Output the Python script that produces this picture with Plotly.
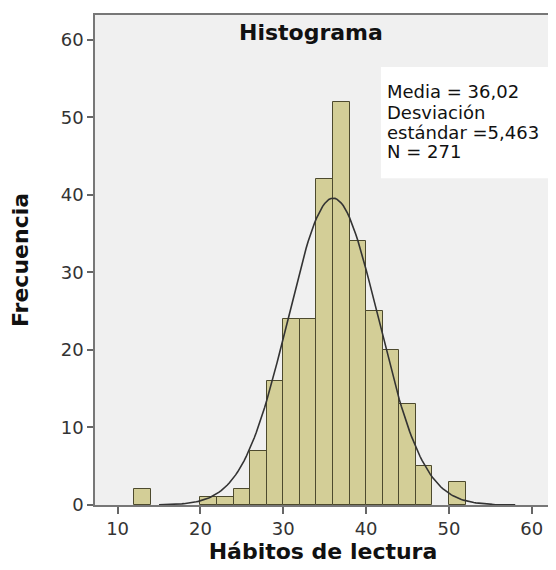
import math
import plotly.graph_objects as go

# Histogram data (bin width 2)
bin_starts = [12, 20, 22, 24, 26, 28, 30, 32, 34, 36, 38, 40, 42, 44, 46, 50]
counts = [2, 1, 1, 2, 7, 16, 24, 24, 42, 52, 34, 25, 20, 13, 5, 3]
bin_width = 2

# Summary statistics shown in the chart
mean = 36.02
sd = 5.463
n = 271

x_ticks = [10, 20, 30, 40, 50, 60]
y_ticks = [0, 10, 20, 30, 40, 50, 60]

# Fitted normal curve (scaled to counts)
curve_x = [15 + i * 0.25 for i in range(int((58 - 15) / 0.25) + 1)]
scale = n * bin_width / (sd * math.sqrt(2 * math.pi))
curve_y = [scale * math.exp(-0.5 * ((v - mean) / sd) ** 2) for v in curve_x]

centers = [b + bin_width / 2 for b in bin_starts]

FONT = "DejaVu Sans"

fig = go.Figure()
fig.add_trace(go.Bar(
    x=centers, y=counts, width=bin_width,
    marker=dict(color="#d3ce97", line=dict(color="#4d4a2e", width=1)),
    hoverinfo="x+y", showlegend=False,
))
fig.add_trace(go.Scatter(
    x=curve_x, y=curve_y, mode="lines",
    line=dict(color="#333333", width=1.6), showlegend=False,
))

# page body has an 8px margin, so the figure is sized to fit the window
fig.update_layout(
    width=548, height=562,
    margin=dict(l=87, r=3, t=7, b=65),
    paper_bgcolor="white", plot_bgcolor="#f0f0f0",
    font=dict(family=FONT, color="#222222"),
    bargap=0,
)
fig.update_xaxes(
    range=[7.27, 62.32], tickvals=x_ticks, ticktext=[str(v) for v in x_ticks],
    showgrid=False, zeroline=False,
    showline=True, linecolor="#777777", linewidth=1.5, mirror=True,
    ticks="outside", ticklen=7, tickwidth=1.5, tickcolor="#666666",
    tickfont=dict(size=18, family=FONT, color="#333333"),
    title=dict(text="<b>Hábitos de lectura</b>", font=dict(size=22, family=FONT, color="#111111"), standoff=3),
)
fig.update_yaxes(
    range=[0, 63.2], tickvals=y_ticks, ticktext=[str(v) for v in y_ticks],
    showgrid=False, zeroline=False,
    showline=True, linecolor="#777777", linewidth=1.5, mirror=True,
    ticks="outside", ticklen=6, tickwidth=1.5, tickcolor="#666666",
    tickfont=dict(size=18, family=FONT, color="#333333"),
    title=dict(text="<b>Frecuencia</b>", font=dict(size=22, family=FONT, color="#111111"), standoff=27),
)

# Stats box
fig.add_shape(type="rect", xref="paper", yref="paper",
              x0=0.627, x1=0.997, y0=0.667, y1=0.894,
              fillcolor="white", line=dict(width=0), layer="above")

stat_lines = [f"Media = {mean:.2f}".replace(".", ","),
              "Desviación",
              f"estándar ={sd:.3f}".replace(".", ","),
              f"N = {n}"]
line_y = [0.843, 0.802, 0.761, 0.722]
for txt, yy in zip(stat_lines, line_y):
    fig.add_annotation(xref="paper", yref="paper", x=0.636, y=yy, text=txt,
                       showarrow=False, xanchor="left", yanchor="middle",
                       font=dict(size=18, family=FONT, color="#111111"))

# Chart title
fig.add_annotation(xref="paper", yref="paper", x=0.474, y=0.965,
                   text="<b>Histograma</b>", showarrow=False,
                   xanchor="center", yanchor="middle",
                   font=dict(size=22, family=FONT, color="#111111"))

fig.write_html("out.html")
